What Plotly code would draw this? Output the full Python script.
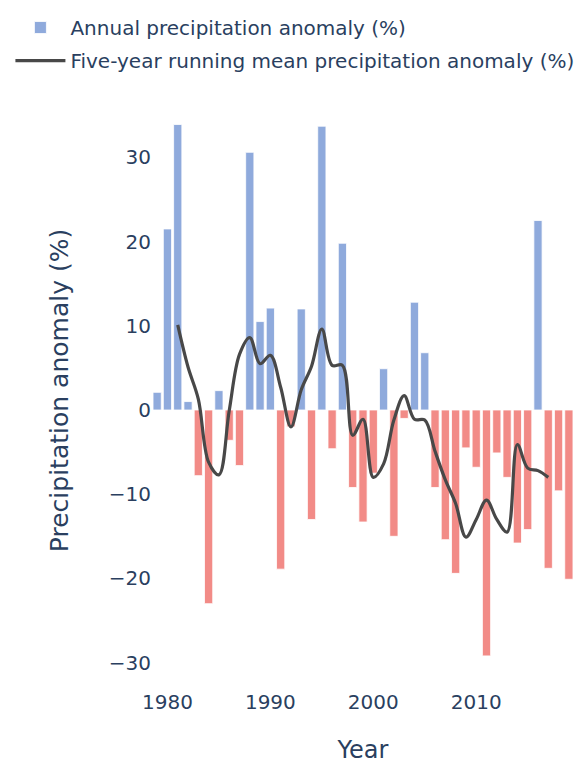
import plotly.graph_objects as go

# Annual precipitation anomaly (%), 1979-2019
years = list(range(1979, 2020))
anomaly = [2.1, 21.5, 33.9, 1.0, -7.8, -23.0, 2.3, -3.6, -6.6, 30.6,
           10.5, 12.1, -18.9, -2.0, 12.0, -13.0, 33.7, -4.6, 19.8, -9.2,
           -13.3, -7.5, 4.9, -15.0, -1.0, 12.8, 6.8, -9.2, -15.4, -19.4,
           -4.5, -6.8, -29.2, -5.1, -8.0, -15.8, -14.2, 22.5, -18.8, -9.6,
           -20.1]

# Five-year running mean, 1981-2017
mean_years = list(range(1981, 2018))
running_mean = [10.1, 5.1, 1.3, -6.2, -7.7, -0.1, 6.6, 8.6, 5.5, 6.5,
                2.7, -2.0, 2.4, 5.2, 9.6, 5.3, 5.3, -3.0, -1.1, -8.0,
                -6.4, -1.2, 1.7, -1.1, -1.2, -4.9, -8.3, -11.1, -15.1, -13.0,
                -10.7, -13.0, -14.5, -4.1, -6.9, -7.2, -8.0]

x_ticks = [1980, 1990, 2000, 2010]
y_ticks = [-30, -20, -10, 0, 10, 20, 30]

BLUE = "#8FAADC"
RED = "#F28B87"
bar_colors = [BLUE if v >= 0 else RED for v in anomaly]

fig = go.Figure()
fig.add_trace(go.Bar(
    x=years, y=anomaly,
    name="Annual precipitation anomaly (%)",
    legendgroup="bars",
    marker=dict(color=bar_colors, line=dict(color="white", width=0.8)),
))
fig.add_trace(go.Scatter(
    x=mean_years, y=running_mean,
    mode="lines",
    name="Five-year running mean precipitation anomaly (%)",
    legendgroup="mean",
    line=dict(color="#484848", width=3.2, shape="spline"),
))

fig.update_layout(
    template="plotly_white",
    width=576, height=756,
    margin=dict(l=143.6, r=10.4, t=90, b=81, autoexpand=False),
    font=dict(family="Verdana, DejaVu Sans, sans-serif", size=20, color="#2a3f5f"),
    legend=dict(xref="paper", yref="paper", x=-0.3355, y=1.1538,
                xanchor="left", yanchor="top", orientation="v",
                itemwidth=50, tracegroupgap=4, bgcolor="rgba(0,0,0,0)"),
    xaxis=dict(title=dict(text="Year", standoff=32), range=[1978.5, 2019.5],
               tickvals=x_ticks, ticklabelstandoff=5,
               showgrid=False, zeroline=False),
    yaxis=dict(title=dict(text="Precipitation anomaly (%)", standoff=33,
                          font=dict(size=25)),
               range=[-32.42, 37.05], tickvals=y_ticks,
               showgrid=False, zeroline=False),
)

fig.write_html("out.html")
